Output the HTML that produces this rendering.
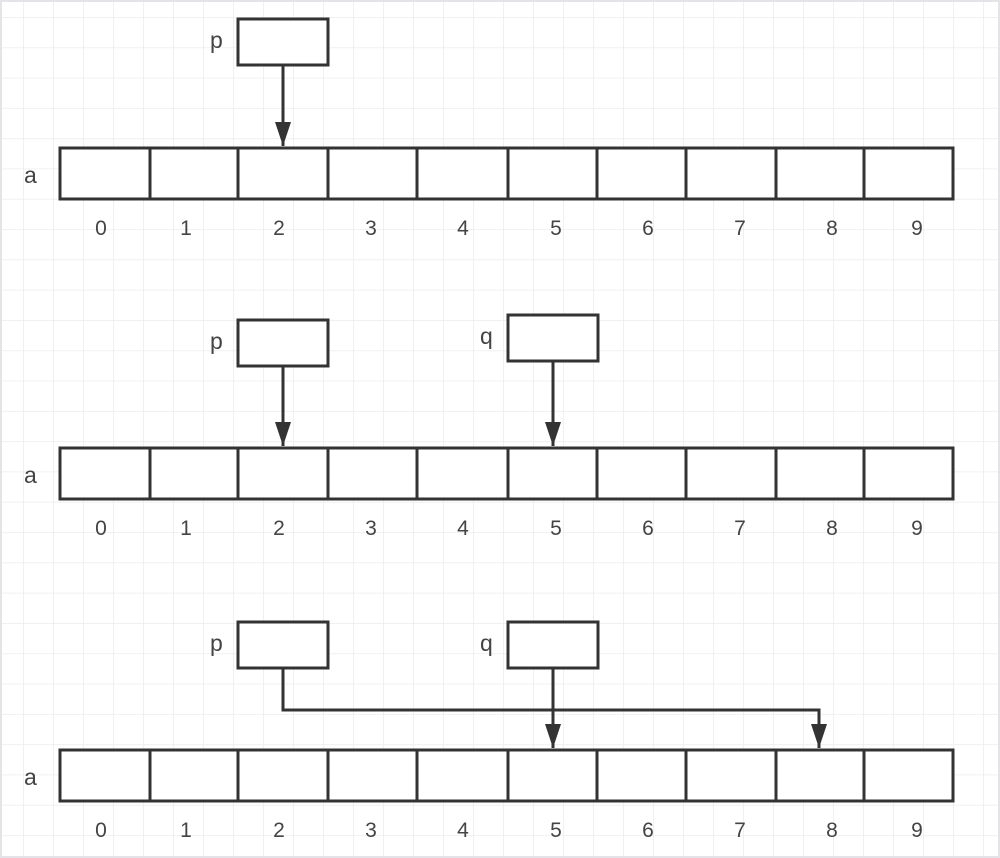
<!DOCTYPE html>
<html><head><meta charset="utf-8"><style>
html,body{margin:0;padding:0;background:#fff}
svg{display:block}
text{font-family:"Liberation Sans",sans-serif;font-size:21px;fill:#444}
text.big{font-size:23px}
</style></head><body>
<svg width="1000" height="858" viewBox="0 0 1000 858">
<defs>
<pattern id="g" x="23" y="17" width="30" height="30.3" patternUnits="userSpaceOnUse">
<path d="M0 0V30.3M0 0H30" stroke="#ececec" stroke-width="1.5" fill="none"/>
</pattern>
</defs>
<rect x="0" y="0" width="1000" height="858" fill="url(#g)"/>
<rect x="0.5" y="0.5" width="999" height="857" fill="none" stroke="#e4e4e8" stroke-width="3"/>
<g id="root"></g>
</svg>
<script>
const idxLabels=["0","1","2","3","4","5","6","7","8","9"];
const labelX=[101,186,279,371,463,556,648,740,832,917];
const arrTops=[148,448,750];
const cellEdges=[60,150,238,328,417,508,597,686,776,864,953];
const NS="http://www.w3.org/2000/svg";
const root=document.getElementById('root');
function mk(tag,attrs,parent){const e=document.createElementNS(NS,tag);for(const k in attrs)e.setAttribute(k,attrs[k]);(parent||root).appendChild(e);return e;}
const S="#333";
arrTops.forEach((t,ai)=>{
  const g=mk('g',{});
  
  
  const lab=mk('text',{x:24,y:t+35,'class':'big'},g);lab.textContent='a';
  
  
  for(let i=0;i<10;i++){
    const r=mk('rect',{x:cellEdges[i],y:t,width:cellEdges[i+1]-cellEdges[i],height:51,fill:'#fff',stroke:S,'stroke-width':3},g);
    
    
    const tx=mk('text',{x:labelX[i],y:t+87,'text-anchor':'middle'},g);tx.textContent=idxLabels[i];
    
    
  }
});
function box(name,x,y,letter){
  const r=mk('rect',{x:x,y:y,width:90,height:46,fill:'#fff',stroke:S,'stroke-width':3});
  
  
  const t=mk('text',{x:x-28,y:y+29,'class':'big'});t.textContent=letter;
  
  
}
function arrow(name,pts){
  const d='M'+pts.map(p=>p.join(' ')).join('L');
  const p=mk('path',{d:d,fill:'none',stroke:S,'stroke-width':3});
  
  
  const e=pts[pts.length-1];
  const h=mk('path',{d:`M${e[0]-8} ${e[1]-24}L${e[0]+8} ${e[1]-24}L${e[0]} ${e[1]}Z`,fill:S});
  
  
}
box('p1',238,19,'p');
arrow('p1-arrow',[[283,65],[283,146]]);
box('p2',238,320,'p');
box('q2',508,315,'q');
arrow('p2-arrow',[[283,366],[283,446]]);
arrow('q2-arrow',[[553,360],[553,446]]);
box('p3',238,622,'p');
box('q3',508,622,'q');
arrow('p3-arrow',[[283,667],[283,710],[819,710],[819,748]]);
arrow('q3-arrow',[[553,667],[553,748]]);
</script>
</body></html>
